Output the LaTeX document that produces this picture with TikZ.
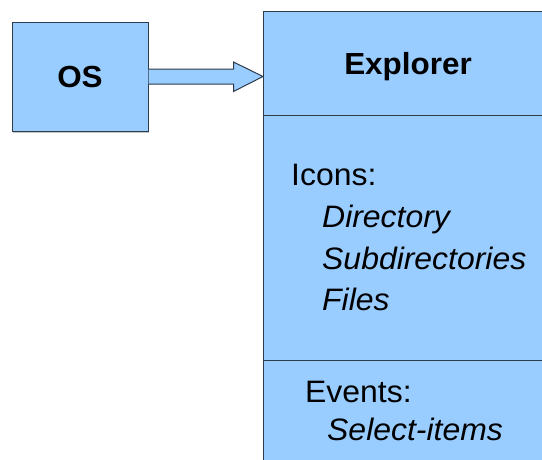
\documentclass[tikz,border=0pt]{standalone}
\usepackage{fontspec}
\setmainfont[FakeStretch=1.03]{Liberation Sans}
\usetikzlibrary{calc,shadows}
\definecolor{boxfill}{HTML}{99CCFF}
\definecolor{boxline}{HTML}{2E3B4A}
\begin{document}
\begin{tikzpicture}[x=1pt,y=-1pt,
  block/.style={draw=boxline, fill=boxfill, line width=1pt, inner sep=0pt},
  heading/.style={font=\bfseries\fontsize{30.5}{36}\selectfont, inner sep=0pt},
  entry/.style={font=\fontsize{31}{36}\selectfont, inner sep=0pt, anchor=base west},
  item/.style={entry, font=\itshape\fontsize{31}{36}\selectfont}]
\useasboundingbox (0,0) rectangle (542,459);
\clip (0,0) rectangle (542,459);

% OS box
\node[block, minimum width=136pt, minimum height=109pt, heading,
      drop shadow={shadow xshift=0.8pt, shadow yshift=-1.5pt, fill=gray!45, opacity=1}]
      (os) at (80,76.5) {OS};

% Explorer box with its compartments
\node[block, anchor=north west, minimum width=290pt, minimum height=470pt] (exp) at (263,11) {};
\coordinate (sepA) at (0,115);
\coordinate (sepB) at (0,360);
\draw[boxline, line width=1pt] (exp.west |- sepA) -- (exp.east |- sepA);
\draw[boxline, line width=1pt] (exp.west |- sepB) -- (exp.east |- sepB);

\node[heading, anchor=base] (title) at (408,74) {Explorer};

\node[entry] (icons) at (291,185) {Icons:};
\node[item] (dir) at (322,227) {Directory};
\node[item] (subdir) at (322,269) {Subdirectories};
\node[item] (files) at (322,310) {Files};

\node[entry] (events) at (305,402) {Events:};
\node[item] (select) at (327,440) {Select-items};

% block arrow from OS to Explorer
\coordinate (tip) at (exp.west |- os.east);
\draw[block, line join=miter]
  ($(os.east)+(0,-7.5)$) -- ($(os.east)+(85,-7.5)$) -- ($(os.east)+(85,-14.5)$)
  -- (tip) -- ($(os.east)+(85,15)$) -- ($(os.east)+(85,7.5)$) -- ($(os.east)+(0,7.5)$);
\end{tikzpicture}
\end{document}
